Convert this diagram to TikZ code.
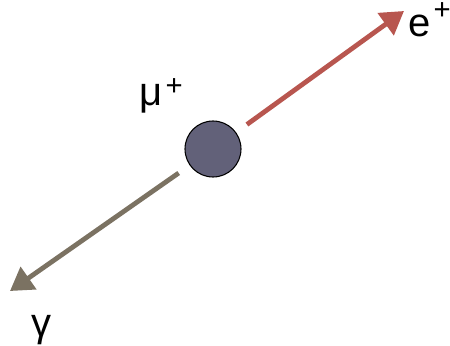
\documentclass[tikz,border=0pt]{standalone}
\usepackage{fontspec}
\setmainfont{Liberation Sans}
\usepackage{tikz}
\usetikzlibrary{arrows.meta, positioning}
\definecolor{cBall}{HTML}{626179}
\definecolor{cRed}{HTML}{B8564F}
\definecolor{cBrown}{HTML}{7B7262}
\newcommand{\plusup}[1]{\raisebox{#1}{\fontsize{22}{22}\selectfont +}}
\tikzset{
  particle/.style={
    circle, draw=black, line width=0.8pt, fill=cBall,
    minimum size=42pt, inner sep=0pt
  },
  track/.style={-{Triangle[length=17pt, width=20pt]}, line width=3.6pt, #1,
    shorten <=10pt},
  lbl/.style={font=\fontsize{30}{30}\selectfont, inner sep=0pt, anchor=base west},
}
\begin{document}
\begin{tikzpicture}[x=0.75pt, y=-0.75pt]
  \useasboundingbox (0,0) rectangle (450,346);

  % Muon at rest
  \node[particle] (mu) at (213,149) {};
  \node[lbl] (mulbl) at (139,106) {μ\kern2.5pt\plusup{7.5pt}};

  % Decay products
  \coordinate (etip) at (404,11);
  \coordinate (gtip) at (10,291);
  \draw[track=cRed] (mu) -- (etip);
  \draw[track=cBrown] (mu) -- (gtip);

  % Labels
  \node[lbl] (elbl) at (408,37) {e\kern2.3pt\plusup{13pt}};
  \node[lbl] (glbl) at (31,336) {γ};

\end{tikzpicture}
\end{document}
